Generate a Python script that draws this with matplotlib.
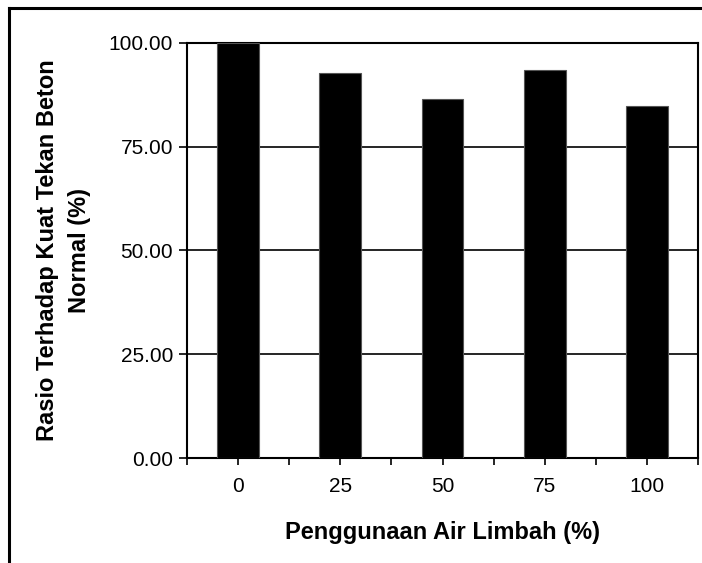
import matplotlib
matplotlib.use("Agg")
import matplotlib.pyplot as plt
from matplotlib.ticker import FixedLocator, NullFormatter

categories = ["0", "25", "50", "75", "100"]
values = [100.0, 92.8, 86.6, 93.6, 84.7]
yticks = [0, 25, 50, 75, 100]
ytick_labels = ["0.00", "25.00", "50.00", "75.00", "100.00"]

plt.rcParams['font.family'] = ['Liberation Sans', 'DejaVu Sans']

fig = plt.figure(figsize=(7.02, 5.63), dpi=100)
ax = fig.add_axes([187/702, 1 - 458/563, (698-187)/702, (458-43)/563])

x = list(range(len(categories)))
ax.bar(x, values, width=0.41, color='black', edgecolor='#555555', linewidth=0.8, zorder=3)

ax.set_xlim(-0.5, len(categories) - 0.5)
ax.set_ylim(0, 100)
ax.set_yticks(yticks)
ax.set_yticklabels(ytick_labels, fontsize=15)
ax.yaxis.grid(True, color='black', linewidth=1.2, zorder=1)

ax.set_xticks(x)
ax.set_xticklabels(categories, fontsize=15)
ax.xaxis.set_minor_locator(FixedLocator([i - 0.5 for i in range(len(categories) + 1)]))
ax.xaxis.set_minor_formatter(NullFormatter())
ax.tick_params(axis='x', which='major', length=5, width=1.2, pad=9, color='black')
ax.tick_params(axis='x', which='minor', length=5, width=1.2, color='black')
ax.tick_params(axis='y', length=6, width=1.2, pad=4)

for s in ax.spines.values():
    s.set_linewidth(1.5)
    s.set_color('black')

ax.set_xlabel("Penggunaan Air Limbah (%)", fontsize=17, fontweight='bold', labelpad=18)
ax.set_ylabel("Rasio Terhadap Kuat Tekan Beton\nNormal (%)", fontsize=17,
              fontweight='bold', labelpad=13, linespacing=1.5)

# figure border (top and left visible)
fig.add_artist(plt.Line2D([9/702, 1.0], [1 - 8/563, 1 - 8/563], color='black', linewidth=2.2,
                          transform=fig.transFigure))
fig.add_artist(plt.Line2D([9/702, 9/702], [0.0, 1 - 8/563], color='black', linewidth=2.2,
                          transform=fig.transFigure))

fig.savefig("out.png", dpi=100)
